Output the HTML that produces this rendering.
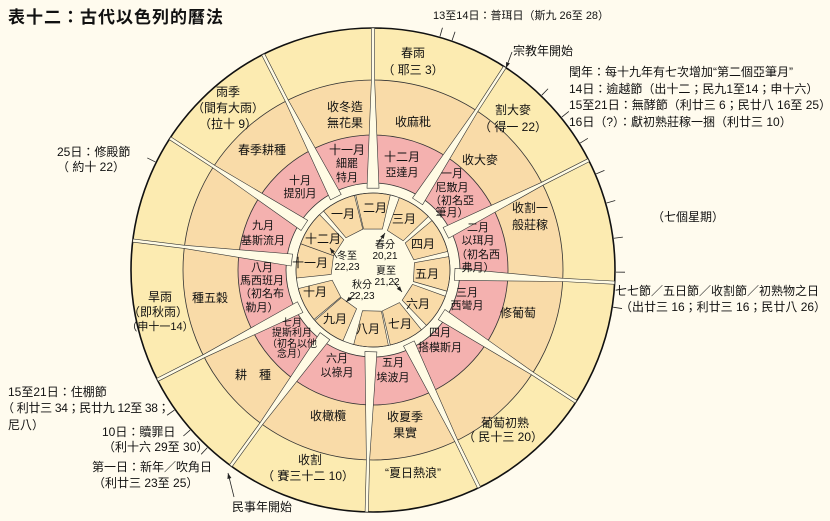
<!DOCTYPE html>
<html><head><meta charset="utf-8">
<style>
html,body{margin:0;padding:0;background:#FFFBEE;}
svg{display:block;font-family:"Liberation Sans","Noto Sans CJK TC","Noto Sans CJK SC",sans-serif;}
text{fill:#111;}
.m{font-size:12px;text-anchor:middle;}
.s{font-size:11px;text-anchor:middle;}
.l{font-size:12px;}
</style></head>
<body>
<svg id="svg" width="830" height="521" viewBox="0 0 830 521" xmlns="http://www.w3.org/2000/svg">
<rect width="830" height="521" fill="#FFFBEE"/>
<g id="shapes"></g>
<g id="txt">
<text x="8" y="23" style="font-size:17px;font-weight:bold" letter-spacing="1">表十二：古代以色列的曆法</text>
<text x="433" y="19" style="font-size:11px">13至14日：普珥日（斯九 26至 28）</text>
<text x="513" y="55" class="l">宗教年開始</text>
<text x="569" y="76" class="l">閏年：每十九年有七次增加“第二個亞筆月”</text>
<text x="569" y="93" class="l">14日：逾越節（出十二；民九1至14；申十六）</text>
<text x="569" y="109" class="l">15至21日：無酵節（利廿三 6；民廿八 16至 25）</text>
<text x="569" y="126" class="l">16日（?）：獻初熟莊稼一捆（利廿三 10）</text>
<text x="688" y="221" class="m">（七個星期）</text>
<text x="615" y="295" class="l">七七節／五日節／收割節／初熟物之日</text>
<text x="620" y="311" class="l">（出廿三 16；利廿三 16；民廿八 26）</text>
<text x="57" y="156" class="l">25日：修殿節</text>
<text x="57" y="171" class="l">（ 約十 22）</text>
<text x="8" y="396" class="l">15至21日：住棚節</text>
<text x="2" y="412" class="l" letter-spacing="-0.3">（ 利廿三 34；民廿九 12至 38；</text>
<text x="8" y="429" class="l">尼八）</text>
<text x="102" y="436" class="l">10日：贖罪日</text>
<text x="103" y="451" class="l">（利十六 29至 30）</text>
<text x="92" y="471" class="l">第一日：新年／吹角日</text>
<text x="93" y="487" class="l">（利廿三 23至 25）</text>
<text x="232" y="511" class="l">民事年開始</text>

<text x="413" y="57" class="m">春雨</text><text x="413" y="74" class="m">（ 耶三 3）</text>
<text x="513" y="114" class="m">割大麥</text><text x="513" y="131" class="m">（ 得一 22）</text>
<text x="228" y="96" class="m">雨季</text><text x="228" y="112" class="m">（間有大雨）</text><text x="228" y="128" class="m">（拉十 9）</text>
<text x="160" y="301" class="m">旱雨</text><text x="158" y="316" class="m">（即秋雨）</text><text x="160" y="330" class="s">（申十一14）</text>
<text x="310" y="464" class="m">收割</text><text x="308" y="480" class="m">（ 賽三十二 10）</text>
<text x="413" y="477" class="m">“夏日熱浪”</text>
<text x="505" y="427" class="m">葡萄初熟</text><text x="503" y="441" class="m">（ 民十三 20）</text>

<text x="345" y="111" class="m">收冬造</text><text x="345" y="127" class="m">無花果</text>
<text x="413" y="126" class="m">收麻秕</text>
<text x="480" y="164" class="m">收大麥</text>
<text x="530" y="212" class="m">收割一</text><text x="530" y="229" class="m">般莊稼</text>
<text x="518" y="317" class="m">修葡萄</text>
<text x="405" y="421" class="m">收夏季</text><text x="405" y="437" class="m">果實</text>
<text x="328" y="420" class="m">收橄欖</text>
<text x="253" y="379" class="m">耕　種</text>
<text x="210" y="302" class="m">種五穀</text>
<text x="262" y="154" class="m">春季耕種</text>

<text x="347" y="154" class="m">十一月</text><text x="347" y="167" class="s">細罷</text><text x="347" y="181" class="s">特月</text>
<text x="402" y="161" class="m">十二月</text><text x="402" y="176" class="s">亞達月</text>
<text x="452" y="177" class="s">一月</text><text x="452" y="191" class="s">尼散月</text><text x="452" y="204" class="s">（初名亞</text><text x="452" y="216" class="s">筆月）</text>
<text x="478" y="231" class="s">二月</text><text x="478" y="244" class="s">以珥月</text><text x="478" y="258" class="s">（初名西</text><text x="478" y="271" class="s">弗月）</text>
<text x="467" y="296" class="s">三月</text><text x="467" y="309" class="s">西彎月</text>
<text x="440" y="336" class="s">四月</text><text x="440" y="351" class="s">搭模斯月</text>
<text x="393" y="366" class="s">五月</text><text x="393" y="381" class="s">埃波月</text>
<text x="337" y="362" class="s">六月</text><text x="337" y="376" class="s">以祿月</text>
<text x="292" y="326" class="s" style="font-size:10px">七月</text><text x="292" y="336" class="s" style="font-size:10px">提斯利月</text><text x="292" y="347" class="s" style="font-size:10px">（初名以他</text><text x="292" y="357" class="s" style="font-size:10px">念月）</text>
<text x="262" y="271" class="s">八月</text><text x="262" y="284" class="s">馬西班月</text><text x="262" y="297" class="s">（初名布</text><text x="262" y="311" class="s">勒月）</text>
<text x="263" y="229" class="s">九月</text><text x="263" y="244" class="s">基斯流月</text>
<text x="300" y="184" class="s">十月</text><text x="300" y="197" class="s">提別月</text>

<text x="343" y="218" class="m">一月</text>
<text x="375" y="212" class="m">二月</text>
<text x="404" y="223" class="m">三月</text>
<text x="423" y="248" class="m">四月</text>
<text x="427" y="278" class="m">五月</text>
<text x="418" y="308" class="m">六月</text>
<text x="400" y="328" class="m">七月</text>
<text x="368" y="333" class="m">八月</text>
<text x="335" y="323" class="m">九月</text>
<text x="315" y="296" class="m">十月</text>
<text x="310" y="267" class="m">十一月</text>
<text x="323" y="243" class="m">十二月</text>

<text x="347" y="259" class="s" style="font-size:10px">冬至</text><text x="347" y="270" class="s" style="font-size:10px">22,23</text>
<text x="385" y="248" class="s" style="font-size:10px">春分</text><text x="385" y="259" class="s" style="font-size:10px">20,21</text>
<text x="386" y="274" class="s" style="font-size:10px">夏至</text><text x="387" y="285" class="s" style="font-size:10px">21,22</text>
<text x="362" y="288" class="s" style="font-size:10px">秋分</text><text x="362" y="299" class="s" style="font-size:10px">22,23</text>
</g>
</svg>
<script>
(function(){
var NS="http://www.w3.org/2000/svg",g=document.getElementById("shapes");
var cx=373,cy=270;
function el(t,a){var e=document.createElementNS(NS,t);for(var k in a)e.setAttribute(k,a[k]);g.appendChild(e);return e;}
function P(r,a){a=a*Math.PI/180;return [cx+r*Math.cos(a),cy+r*Math.sin(a)];}
function pt(p){return p[0].toFixed(1)+","+p[1].toFixed(1);}
var sp=[-90,-57,-27,3,33,64,91.5,126,153,-173,-147,-117];
el("circle",{cx:cx,cy:cy,r:242,fill:"#FCEBB1",stroke:"#111","stroke-width":1.6});
el("circle",{cx:cx,cy:cy,r:190,fill:"#F9DBA8",stroke:"#333","stroke-width":0.8});
el("circle",{cx:cx,cy:cy,r:135,fill:"#F4B1AF",stroke:"#333","stroke-width":0.8});
el("circle",{cx:cx,cy:cy,r:87,fill:"#FFFBE4",stroke:"#333","stroke-width":0.8});
sp.forEach(function(a){
 var a1=a-13,a2=a+13;
 var d="M"+pt(P(42,a1))+" L"+pt(P(77,a1))+" A77,77 0 0 1 "+pt(P(77,a2))+" L"+pt(P(42,a2))+" Z";
 el("path",{d:d,fill:"#F9DBA8",stroke:"#333","stroke-width":0.6});
});
el("circle",{cx:cx,cy:cy,r:77,fill:"none",stroke:"#333","stroke-width":0.7});
el("circle",{cx:cx,cy:cy,r:40,fill:"#FFFBE4"});
sp.forEach(function(a){
 function side(r,w){var d=w/r*180/Math.PI;return [P(r,a-d),P(r,a+d)];}
 var i=side(82,6),m=side(190,1.6),o=side(242,1.6);
 var d="M"+pt(i[0])+" L"+pt(m[0])+" L"+pt(o[0])+" L"+pt(o[1])+" L"+pt(m[1])+" L"+pt(i[1])+" Z";
 el("path",{d:d,fill:"#FFFBE4",stroke:"#333","stroke-width":0.6});
});
[-74,-71,-46,-39,-31.5,-23.3,-16,-7.5,0.5,8.8,-153.6,144.8,138.8,133].forEach(function(a){
 var p1=P(243,a),p2=P(252,a);
 el("line",{x1:p1[0],y1:p1[1],x2:p2[0],y2:p2[1],stroke:"#222","stroke-width":0.8});
});
function arrow(x1,y1,x2,y2){
 el("line",{x1:x1,y1:y1,x2:x2,y2:y2,stroke:"#222","stroke-width":0.8});
 var a=Math.atan2(y2-y1,x2-x1),L=6,w=0.35;
 var p="M"+x2+","+y2+" L"+(x2-L*Math.cos(a-w)).toFixed(1)+","+(y2-L*Math.sin(a-w)).toFixed(1)+" L"+(x2-L*Math.cos(a+w)).toFixed(1)+","+(y2-L*Math.sin(a+w)).toFixed(1)+" Z";
 el("path",{d:p,fill:"#222"});
}
arrow(512,52,506,68);
arrow(234,497,228,473);
arrow(337,258,330,248);
arrow(378,244,385,233);
arrow(393,281,402,292);
arrow(356,293,346,302);
})();
</script>
</body></html>
